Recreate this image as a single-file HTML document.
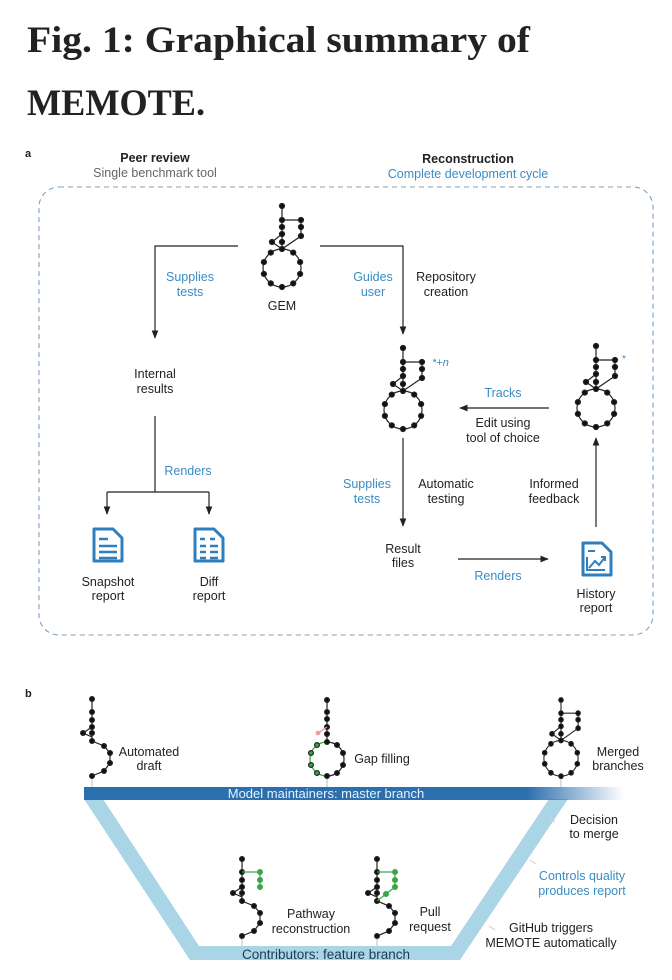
<!DOCTYPE html>
<html><head><meta charset="utf-8"><style>
html,body{margin:0;padding:0;background:#fff;}
svg{display:block;}
text{font-family:"Liberation Sans",sans-serif;font-size:12.5px;fill:#222;}
.b{fill:#3b8cc4;}
.c{text-anchor:middle;}
</style></head><body>
<svg width="672" height="980" viewBox="0 0 672 980" xmlns="http://www.w3.org/2000/svg">
<defs>
<g id="gem" stroke="#222" stroke-width="1.2" fill="#111">
  <path d="M0 0V43M0 14H19V30L0 43M0 28L-10 36L0 43" fill="none"/>
  <circle cx="0" cy="62" r="19" fill="none"/>
  <circle cx="0" cy="0" r="2.5"/><circle cx="0" cy="14" r="2.5"/><circle cx="0" cy="21" r="2.5"/><circle cx="0" cy="28" r="2.5"/>
  <circle cx="19" cy="14" r="2.5"/><circle cx="19" cy="21" r="2.5"/><circle cx="19" cy="30" r="2.5"/>
  <circle cx="-10" cy="36" r="2.5"/><circle cx="0" cy="36" r="2.5"/>
  <circle cx="0" cy="43" r="2.5"/><circle cx="11.2" cy="46.6" r="2.5"/><circle cx="18.1" cy="56.1" r="2.5"/><circle cx="18.1" cy="67.9" r="2.5"/><circle cx="11.2" cy="77.4" r="2.5"/><circle cx="0" cy="81" r="2.5"/><circle cx="-11.2" cy="77.4" r="2.5"/><circle cx="-18.1" cy="67.9" r="2.5"/><circle cx="-18.1" cy="56.1" r="2.5"/><circle cx="-11.2" cy="46.6" r="2.5"/>
</g>
<g id="chain" stroke="#222" stroke-width="1.2" fill="#111">
  <path d="M0 0V42L12 47L18 54V64L12 72L0 77M0 28L-9 34L0 38" fill="none"/>
  <circle cx="0" cy="0" r="2.4"/><circle cx="0" cy="13" r="2.4"/><circle cx="0" cy="21" r="2.4"/><circle cx="0" cy="28" r="2.4"/><circle cx="-9" cy="34" r="2.4"/><circle cx="0" cy="34" r="2.4"/><circle cx="0" cy="42" r="2.4"/><circle cx="12" cy="47" r="2.4"/><circle cx="18" cy="54" r="2.4"/><circle cx="18" cy="64" r="2.4"/><circle cx="12" cy="72" r="2.4"/><circle cx="0" cy="77" r="2.4"/>
</g>
<marker id="ah" viewBox="0 0 10 10" refX="9" refY="5" markerWidth="7" markerHeight="7" orient="auto"><path d="M0 1L10 5L0 9z" fill="#222"/></marker>
<linearGradient id="fade" x1="0" x2="1"><stop offset="0.82" stop-color="#2b6fae"/><stop offset="1" stop-color="#2b6fae" stop-opacity="0"/></linearGradient>
<g id="doc"><path d="M2 2H21L30 11V34H2Z" fill="none" stroke="#2f7fbf" stroke-width="3" stroke-linejoin="round"/></g>
</defs>

<!-- title -->
<text x="27" y="52" textLength="503" lengthAdjust="spacingAndGlyphs" style="font-family:'Liberation Serif',serif;font-weight:bold;font-size:37px;fill:#222">Fig. 1: Graphical summary of</text>
<text x="27" y="115" textLength="178" lengthAdjust="spacingAndGlyphs" style="font-family:'Liberation Serif',serif;font-weight:bold;font-size:37px;fill:#222">MEMOTE.</text>

<!-- part a -->
<text x="25" y="157" style="font-weight:bold;font-size:11px">a</text>
<text x="155" y="162" class="c" style="font-weight:bold">Peer review</text>
<text x="155" y="177" class="c" style="fill:#666">Single benchmark tool</text>
<text x="468" y="163" class="c" style="font-weight:bold">Reconstruction</text>
<text x="468" y="178" class="c b">Complete development cycle</text>
<rect x="39" y="187" width="614" height="448" rx="20" fill="none" stroke="#7a9fbf" stroke-width="1.1" stroke-dasharray="5 4"/>

<use href="#gem" x="282" y="206"/>
<text x="282" y="310" class="c">GEM</text>
<g stroke="#222" stroke-width="1.2" fill="none">
<path d="M238 246H155V338" marker-end="url(#ah)"/>
<path d="M320 246H403V334" marker-end="url(#ah)"/>
<path d="M155 416V492M107 492H209M107 492V514M209 492V514" />
<path d="M107 506V514" marker-end="url(#ah)"/><path d="M209 506V514" marker-end="url(#ah)"/>
<path d="M549 408H460" marker-end="url(#ah)"/>
<path d="M403 438V526" marker-end="url(#ah)"/>
<path d="M458 559H548" marker-end="url(#ah)"/>
<path d="M596 527V438" marker-end="url(#ah)"/>
</g>
<text x="190" y="281" class="c b">Supplies</text><text x="190" y="296" class="c b">tests</text>
<text x="373" y="281" class="c b">Guides</text><text x="373" y="296" class="c b">user</text>
<text x="446" y="281" class="c">Repository</text><text x="446" y="296" class="c">creation</text>
<text x="155" y="378" class="c">Internal</text><text x="155" y="393" class="c">results</text>
<text x="188" y="475" class="c b">Renders</text>
<use href="#gem" x="403" y="348"/>
<text x="432" y="366" class="b" style="font-size:11px;font-style:italic">*+n</text>
<use href="#gem" x="596" y="346"/>
<text x="622" y="362" class="b" style="font-size:10px">*</text>
<text x="503" y="397" class="c b">Tracks</text>
<text x="503" y="427" class="c">Edit using</text><text x="503" y="442" class="c">tool of choice</text>
<text x="367" y="488" class="c b">Supplies</text><text x="367" y="503" class="c b">tests</text>
<text x="446" y="488" class="c">Automatic</text><text x="446" y="503" class="c">testing</text>
<text x="554" y="488" class="c">Informed</text><text x="554" y="503" class="c">feedback</text>
<text x="403" y="553" class="c">Result</text><text x="403" y="567" class="c">files</text>
<text x="498" y="580" class="c b">Renders</text>

<use href="#doc" x="92" y="527"/>
<g stroke="#2f7fbf" stroke-width="2.4"><path d="M99 539H108M99 546H117M99 552H117M99 558H117"/></g>
<use href="#doc" x="193" y="527"/>
<g stroke="#2f7fbf" stroke-width="2.4"><path d="M200 539H205M210 539H215M200 546H206M210 546H218M200 552H206M210 552H218M200 558H206M210 558H218"/></g>
<use href="#doc" x="581" y="541"/>
<g stroke="#2f7fbf" stroke-width="2" fill="none"><path d="M588 551H595M587 557V570H605M589 568L595 561L599 565L605 557M601 557H605V561"/></g>
<text x="108" y="586" class="c">Snapshot</text><text x="108" y="600" class="c">report</text>
<text x="209" y="586" class="c">Diff</text><text x="209" y="600" class="c">report</text>
<text x="596" y="598" class="c">History</text><text x="596" y="612" class="c">report</text>

<!-- part b -->
<text x="25" y="697" style="font-weight:bold;font-size:11px">b</text>
<polygon points="84,799 103,799 199,946 451,946 549,799 568,799 460,960 190,960" fill="#a9d5e6"/>
<rect x="84" y="787" width="540" height="13" fill="url(#fade)"/>
<text x="326" y="798" class="c" style="fill:#e6f2fa;font-size:13px">Model maintainers: master branch</text>
<text x="326" y="959" class="c" style="fill:#1d3a55;font-size:13.5px">Contributors: feature branch</text>

<g stroke="#9cc" stroke-width="1"><path d="M92 777V787M327 777V787M561 777V787M242 936V946M377 936V946"/></g>
<use href="#chain" x="92" y="699"/>
<text x="149" y="756" class="c">Automated</text><text x="149" y="770" class="c">draft</text>

<!-- gap filling -->
<g stroke="#222" stroke-width="1.2" fill="#111">
<path d="M327 700V742" fill="none"/>
<path d="M327 742A17 17 0 0 1 327 776" fill="none"/>
<path d="M327 742A17 17 0 0 0 327 776" fill="none" stroke="#3a3"/>
<circle cx="327" cy="700" r="2.4"/><circle cx="327" cy="712" r="2.4"/><circle cx="327" cy="719" r="2.4"/><circle cx="327" cy="727" r="2.4"/><circle cx="327" cy="734" r="2.4"/><circle cx="327" cy="742" r="2.4"/>
<circle cx="337" cy="745" r="2.4"/><circle cx="343" cy="753" r="2.4"/><circle cx="343" cy="765" r="2.4"/><circle cx="337" cy="773" r="2.4"/><circle cx="327" cy="776" r="2.4"/>
<g fill="#3aa648"><circle cx="317" cy="745" r="2.4"/><circle cx="311" cy="753" r="2.4"/><circle cx="311" cy="765" r="2.4"/><circle cx="317" cy="773" r="2.4"/></g>
<path d="M327 727L318 733" stroke="#e9a0a0" fill="none"/><circle cx="318" cy="733" r="2.4" fill="#e9a0a0" stroke="none"/>
</g>
<text x="382" y="763" class="c">Gap filling</text>

<use href="#gem" transform="translate(561,700) scale(0.9,0.94)"/>
<text x="618" y="756" class="c">Merged</text><text x="618" y="770" class="c">branches</text>

<use href="#chain" x="242" y="859"/>
<g stroke="#3aa648" stroke-width="1.2" fill="#3aa648"><path d="M242 872H260V887" fill="none"/><circle cx="260" cy="872" r="2.4"/><circle cx="260" cy="880" r="2.4"/><circle cx="260" cy="887" r="2.4"/></g>
<text x="311" y="918" class="c">Pathway</text><text x="311" y="933" class="c">reconstruction</text>
<use href="#chain" x="377" y="859"/>
<g stroke="#3aa648" stroke-width="1.2" fill="#3aa648"><path d="M377 872H395V887L386 894L377 901" fill="none"/><circle cx="395" cy="872" r="2.4"/><circle cx="395" cy="880" r="2.4"/><circle cx="395" cy="887" r="2.4"/><circle cx="386" cy="894" r="2.4"/></g>
<text x="430" y="916" class="c">Pull</text><text x="430" y="931" class="c">request</text>

<g stroke="#ccc" stroke-width="1"><path d="M550 818L555 822M530 860L536 864M489 926L495 930"/></g>
<text x="594" y="824" class="c">Decision</text><text x="594" y="838" class="c">to merge</text>
<text x="582" y="880" class="c b">Controls quality</text><text x="582" y="895" class="c b">produces report</text>
<text x="551" y="932" class="c">GitHub triggers</text><text x="551" y="947" class="c">MEMOTE automatically</text>
</svg>
</body></html>
